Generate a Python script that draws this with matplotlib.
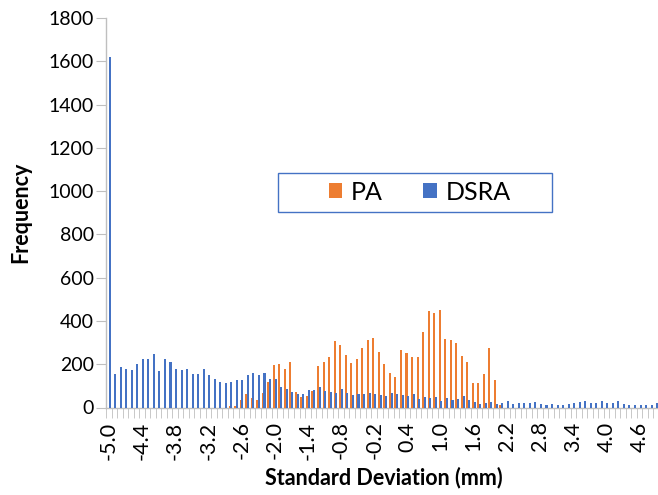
import numpy as np
import matplotlib
matplotlib.use("Agg")
import matplotlib.pyplot as plt
from matplotlib.patches import Rectangle

# category axis: standard deviation bins (mm)
categories = [f"{v / 10:.1f}" for v in range(-50, 50)]

dsra = [
    1620, 153, 187, 177, 173, 202, 222, 225, 245, 170,
    222, 208, 177, 173, 180, 156, 153, 177, 151, 131,
    117, 114, 116, 125, 128, 151, 160, 148, 160, 131,
    131, 93, 84, 70, 63, 61, 81, 81, 93, 76,
    73, 67, 87, 66, 59, 61, 64, 67, 61, 60,
    53, 67, 62, 58, 53, 61, 41, 47, 44, 47,
    32, 44, 35, 38, 53, 35, 25, 16, 19, 25,
    16, 22, 32, 16, 22, 19, 22, 25, 16, 12,
    16, 13, 13, 16, 19, 25, 32, 22, 19, 28,
    22, 22, 28, 16, 13, 13, 13, 13, 10, 19,
]

pa = [
    0, 0, 0, 0, 0, 0, 0, 0, 0, 0,
    0, 0, 0, 0, 0, 0, 0, 0, 0, 0,
    0, 0, 5, 8, 34, 62, 46, 34, 69, 120,
    196, 202, 179, 210, 73, 50, 53, 75, 194, 208,
    235, 309, 291, 242, 206, 223, 277, 313, 322, 256,
    203, 161, 141, 268, 252, 234, 234, 348, 444, 438,
    450, 317, 314, 299, 237, 212, 115, 113, 155, 277,
    126, 12, 0, 0, 0, 0, 0, 0, 0, 0,
    0, 0, 0, 0, 0, 0, 0, 0, 0, 0,
    0, 0, 0, 0, 0, 0, 0, 0, 0, 0,
]

y_ticks = [0, 200, 400, 600, 800, 1000, 1200, 1400, 1600, 1800]

ORANGE = "#ED7D31"
BLUE = "#4472C4"
GRID = "#BFBFBF"

plt.rcParams["font.family"] = ["Lato", "DejaVu Sans"]

W, H = 658, 495
fig = plt.figure(figsize=(W / 100, H / 100), dpi=100)
ax = fig.add_axes([106 / W, 1 - 407.5 / H, 1 - 106 / W, (407.5 - 18) / H])

x = np.arange(len(categories))
bw = 0.37
ax.bar(x - 0.16, pa, width=bw, color=ORANGE, linewidth=0, label="PA", zorder=3)
ax.bar(x + 0.16, dsra, width=bw, color=BLUE, linewidth=0, label="DSRA", zorder=3)

ax.set_xlim(-0.5, -0.5 + (W - 106) / 5.53)
ax.set_ylim(0, 1800)
ax.set_yticks(y_ticks)
ax.tick_params(axis="y", direction="out", length=7, color=GRID,
               labelsize=14, pad=1.5)

# labels every 6th category, tick marks between every category
ax.set_xticks(x[::6])
ax.set_xticklabels(categories[::6], rotation=90)
ax.set_xticks(x - 0.5, minor=True)
ax.tick_params(axis="x", which="major", length=0, labelsize=15.5, pad=10)
ax.tick_params(axis="x", which="minor", direction="out", length=7, color=GRID)

for side in ("top", "right"):
    ax.spines[side].set_visible(False)
for side in ("left", "bottom"):
    ax.spines[side].set_color(GRID)
    ax.spines[side].set_linewidth(1.0)

ax.set_xlabel("Standard Deviation (mm)", fontsize=15.5, fontweight="bold")
ax.set_ylabel("Frequency", fontsize=15.5, fontweight="bold")
ax.xaxis.set_label_coords(0.504, -0.152)
ax.yaxis.set_label_coords(-0.136, 0.5)

# legend box drawn in figure pixels, entries centred inside
fig.patches.append(Rectangle((278 / W, 1 - 212 / H), 274 / W, 39 / H,
                             transform=fig.transFigure, fill=False,
                             edgecolor=BLUE, linewidth=1.0))
fig.legend(loc="center", bbox_to_anchor=(419.5 / W, 1 - 192 / H), ncol=2,
           frameon=False, fontsize=18, handlelength=0.55, handleheight=0.55,
           handletextpad=0.35, columnspacing=1.6)

fig.savefig("out.png", dpi=100)
